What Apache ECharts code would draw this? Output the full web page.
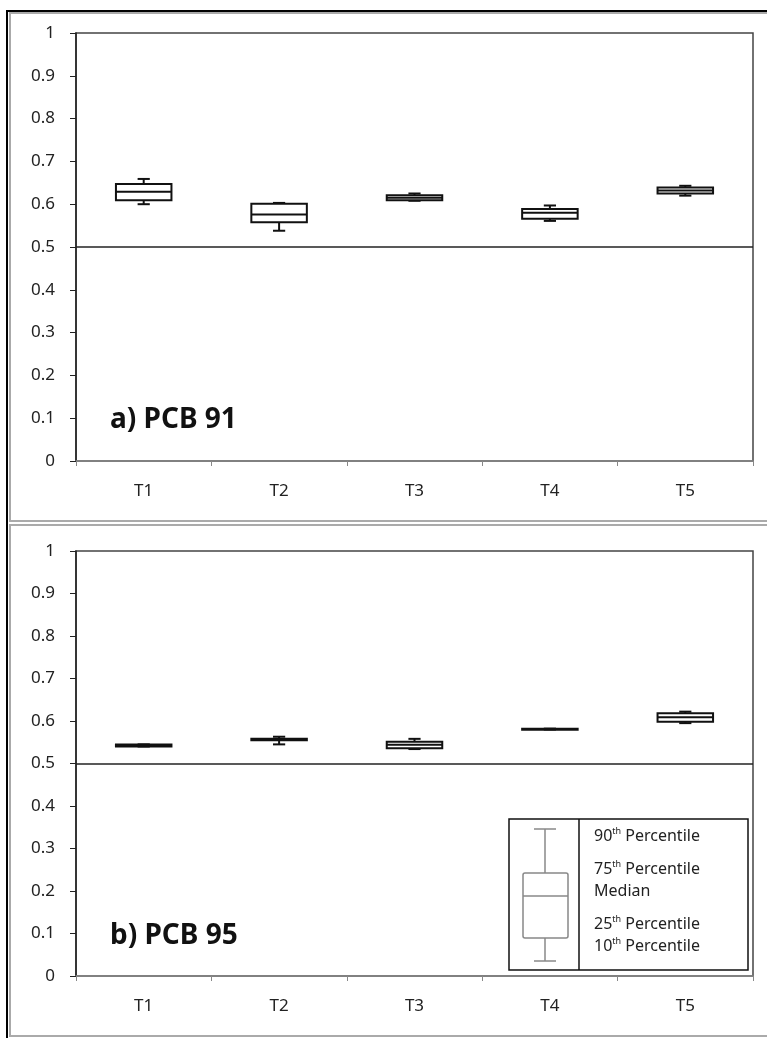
<!DOCTYPE html>
<html>
<head>
<meta charset="utf-8">
<script src="https://cdn.jsdelivr.net/npm/echarts@6/dist/echarts.min.js"></script>
<style>
  html, body { margin: 0; padding: 0; background: #fff; }
  #chart { width: 767px; height: 1038px; }
</style>
</head>
<body>
<div id="chart"></div>
<script>
// categories (sampling times)
var categories = ["T1", "T2", "T3", "T4", "T5"];
var refLine = 0.5;

// [p10, p25, median, p75, p90]
var pcb91 = [
  [0.600, 0.609, 0.629, 0.647, 0.659],
  [0.538, 0.558, 0.576, 0.601, 0.603],
  [0.608, 0.609, 0.615, 0.621, 0.625],
  [0.561, 0.566, 0.580, 0.589, 0.597],
  [0.620, 0.625, 0.632, 0.639, 0.643]
];
var pcb95 = [
  [0.540, 0.540, 0.542, 0.545, 0.545],
  [0.545, 0.555, 0.557, 0.558, 0.563],
  [0.534, 0.536, 0.544, 0.551, 0.558],
  [0.580, 0.580, 0.581, 0.582, 0.582],
  [0.595, 0.598, 0.609, 0.618, 0.622]
];

var legendLabels = ["90", "75", "Median", "25", "10"];

var chart = echarts.init(document.getElementById("chart"));
var font = "Noto Sans";
var txtColor = "#222";

function renderBox(params, api) {
  var x = api.value(0);
  var p10 = api.coord([x, api.value(1)]);
  var p25 = api.coord([x, api.value(2)]);
  var med = api.coord([x, api.value(3)]);
  var p75 = api.coord([x, api.value(4)]);
  var p90 = api.coord([x, api.value(5)]);
  var bw = api.size([1, 0])[0] * 0.41;
  var cw = api.size([1, 0])[0] * 0.09;
  var cx = p10[0];
  var st = { stroke: "#111", lineWidth: 2, fill: null };
  return {
    type: "group",
    children: [
      { type: "line", shape: { x1: cx, y1: p90[1], x2: cx, y2: p75[1] }, style: st },
      { type: "line", shape: { x1: cx, y1: p25[1], x2: cx, y2: p10[1] }, style: st },
      { type: "line", shape: { x1: cx - cw / 2, y1: p90[1], x2: cx + cw / 2, y2: p90[1] }, style: st },
      { type: "line", shape: { x1: cx - cw / 2, y1: p10[1], x2: cx + cw / 2, y2: p10[1] }, style: st },
      { type: "rect", shape: { x: cx - bw / 2, y: p75[1], width: bw, height: Math.max(p25[1] - p75[1], 1) },
        style: { stroke: "#111", lineWidth: 2, fill: "#fff" } },
      { type: "line", shape: { x1: cx - bw / 2, y1: med[1], x2: cx + bw / 2, y2: med[1] }, style: st }
    ]
  };
}

function toData(rows) {
  return rows.map(function (r, i) { return [i].concat(r); });
}

function xAxis(gi) {
  return {
    type: "category", gridIndex: gi, data: categories, boundaryGap: true,
    axisLine: { lineStyle: { color: "#888", width: 1.5 } },
    axisTick: { show: true, length: 5, lineStyle: { color: "#888" } },
    axisLabel: { color: txtColor, fontFamily: font, fontSize: 17, margin: 22 }
  };
}
function yAxis(gi) {
  return {
    type: "value", gridIndex: gi, min: 0, max: 1, interval: 0.1,
    axisLine: { show: true, lineStyle: { color: "#222", width: 1.5 } },
    axisTick: { show: true, inside: false, length: 6, lineStyle: { color: "#222" } },
    splitLine: { show: false },
    axisLabel: { color: txtColor, fontFamily: font, fontSize: 17, margin: 21,
      formatter: function (v) { return String(+v.toFixed(1)); } }
  };
}

function legendText(i, y) {
  var lab = legendLabels[i];
  var text = lab === "Median" ? "{n|Median}" : "{n|" + lab + "}{s|th}{n| Percentile}";
  return {
    type: "text", left: 594, top: y, z: 12,
    style: {
      text: text, fill: txtColor,
      rich: {
        n: { fontFamily: font, fontSize: 16, color: txtColor, verticalAlign: "bottom" },
        s: { fontFamily: font, fontSize: 9, color: txtColor, verticalAlign: "bottom", padding: [0, 0, 8, 0] }
      }
    }
  };
}

var gs = { stroke: "#888", lineWidth: 1.5 };

var option = {
  animation: false,
  grid: [
    { left: 76, right: 14, top: 33, height: 428, show: true, borderColor: "#444", borderWidth: 1.5 },
    { left: 76, right: 14, top: 551, height: 425, show: true, borderColor: "#444", borderWidth: 1.5 }
  ],
  xAxis: [xAxis(0), xAxis(1)],
  yAxis: [yAxis(0), yAxis(1)],
  series: [
    { type: "custom", xAxisIndex: 0, yAxisIndex: 0, renderItem: renderBox, data: toData(pcb91), z: 3 },
    { type: "custom", xAxisIndex: 1, yAxisIndex: 1, renderItem: renderBox, data: toData(pcb95), z: 3 },
    { type: "line", xAxisIndex: 0, yAxisIndex: 0, data: [], markLine: { silent: true, symbol: "none", label: { show: false },
        lineStyle: { color: "#222", width: 1.5, type: "solid" }, data: [{ yAxis: refLine }] } },
    { type: "line", xAxisIndex: 1, yAxisIndex: 1, data: [], markLine: { silent: true, symbol: "none", label: { show: false },
        lineStyle: { color: "#222", width: 1.5, type: "solid" }, data: [{ yAxis: refLine }] } }
  ],
  graphic: [
    // panel borders
    { type: "rect", shape: { x: 10, y: 13, width: 760, height: 508 }, style: { fill: null, stroke: "#aaa", lineWidth: 2 }, z: -1 },
    { type: "rect", shape: { x: 10, y: 525, width: 760, height: 511 }, style: { fill: null, stroke: "#aaa", lineWidth: 2 }, z: -1 },
    { type: "line", shape: { x1: 6, y1: 11, x2: 767, y2: 11 }, style: { stroke: "#000", lineWidth: 2 } },
    { type: "line", shape: { x1: 7, y1: 11, x2: 7, y2: 1038 }, style: { stroke: "#000", lineWidth: 2 } },
    // panel titles
    { type: "text", left: 110, top: 406, style: { text: "a) PCB 91", fontFamily: font, fontSize: 28, fontWeight: "bold", fill: "#111" } },
    { type: "text", left: 110, top: 922, style: { text: "b) PCB 95", fontFamily: font, fontSize: 28, fontWeight: "bold", fill: "#111" } },
    // legend box
    { type: "rect", z: 10, shape: { x: 509, y: 819, width: 239, height: 151 }, style: { fill: "#fff", stroke: "#111", lineWidth: 1.5 } },
    { type: "line", z: 11, shape: { x1: 579, y1: 819, x2: 579, y2: 970 }, style: { stroke: "#111", lineWidth: 1.5 } },
    { type: "line", z: 11, shape: { x1: 545, y1: 829, x2: 545, y2: 873 }, style: gs },
    { type: "line", z: 11, shape: { x1: 545, y1: 938, x2: 545, y2: 961 }, style: gs },
    { type: "line", z: 11, shape: { x1: 534, y1: 829, x2: 556, y2: 829 }, style: gs },
    { type: "line", z: 11, shape: { x1: 534, y1: 961, x2: 556, y2: 961 }, style: gs },
    { type: "rect", z: 11, shape: { x: 523, y: 873, width: 45, height: 65, r: 2 }, style: { fill: "#fff", stroke: "#888", lineWidth: 1.5 } },
    { type: "line", z: 12, shape: { x1: 523, y1: 896, x2: 568, y2: 896 }, style: gs },
    legendText(0, 827),
    legendText(1, 860),
    legendText(2, 883),
    legendText(3, 915),
    legendText(4, 937)
  ]
};

chart.setOption(option);
</script>
</body>
</html>
